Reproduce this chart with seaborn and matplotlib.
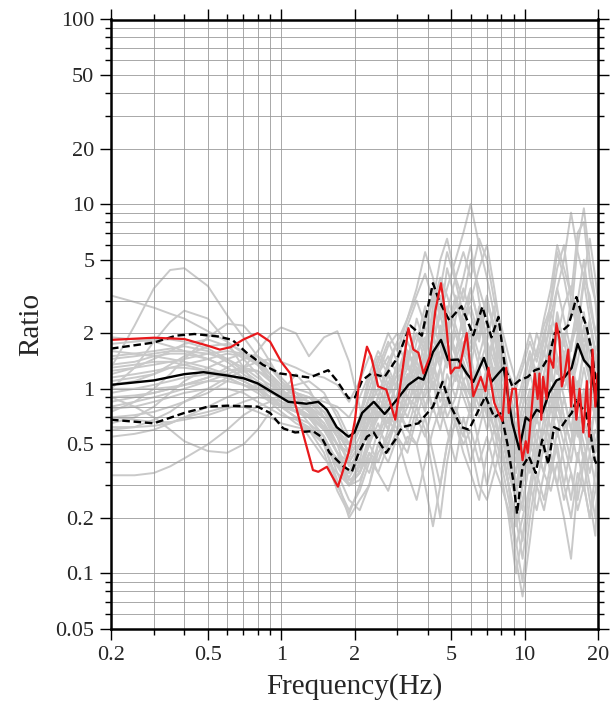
import numpy as np
import pandas as pd
import matplotlib
matplotlib.use("Agg")
import matplotlib.pyplot as plt
import seaborn as sns
from matplotlib.ticker import FixedLocator, FixedFormatter, NullFormatter

# ---------------- data ----------------
GRAY_FREQ = [0.2, 0.25, 0.3, 0.35, 0.4, 0.5, 0.6, 0.7, 0.8, 0.9, 1.0, 1.15, 1.3, 1.5, 1.7, 1.9,
             2.1, 2.3, 2.5, 2.75, 3.0, 3.3, 3.6, 3.9, 4.2, 4.5, 4.8, 5.2, 5.6,
             6.0, 6.5, 7.0, 7.5, 8.0, 8.6, 9.2, 9.8, 10.5, 11.2, 12.0, 12.8, 13.6, 14.5,
             15.5, 16.5, 17.5, 18.5, 19.5, 20.0]

g01 = [3.2, 2.95, 2.75, 2.55, 2.4, 2.05, 1.8, 1.55, 1.35, 1.2, 1.05, 0.9, 0.78, 0.62, 0.5, 0.45,
       0.6, 0.8, 0.7, 1.0, 1.3, 1.1, 1.6, 1.9, 1.4, 2.2, 1.6, 1.2, 1.8,
       1.3, 2.4, 1.5, 1.1, 0.8, 0.55, 0.4, 0.6, 0.5, 0.9, 0.7, 1.2, 0.9, 1.6, 1.1, 0.8, 1.3, 0.9, 0.7, 0.8]
g02 = [1.3, 2.2, 3.5, 4.4, 4.5, 3.6, 2.5, 1.9, 1.5, 1.2, 1.0, 0.8, 0.65, 0.5, 0.42, 0.4,
       0.5, 0.7, 0.9, 0.75, 1.1, 1.5, 2.0, 1.6, 2.4, 3.2, 2.0, 1.5, 2.6,
       3.5, 2.2, 1.8, 2.8, 1.4, 0.8, 0.5, 0.35, 0.6, 1.0, 0.8, 1.4, 2.2, 1.5, 0.9, 1.8, 2.6, 1.5, 1.0, 1.2]
g03 = [1.0, 1.3, 1.8, 2.3, 2.65, 2.4, 1.8, 1.3, 1.0, 0.85, 0.8, 0.85, 0.9, 0.75, 0.55, 0.4,
       0.35, 0.5, 0.8, 1.2, 1.0, 0.8, 1.2, 1.5, 1.0, 1.3, 2.1, 1.6, 1.1,
       0.9, 1.5, 2.2, 1.6, 1.0, 0.7, 0.3, 0.22, 0.45, 0.7, 0.5, 0.8, 1.1, 0.7, 0.5, 0.9, 0.6, 0.45, 0.6, 0.55]
g04 = [0.75, 0.85, 1.0, 1.2, 1.45, 1.9, 2.25, 2.2, 1.8, 1.4, 1.1, 0.9, 0.75, 0.6, 0.45, 0.35,
       0.45, 0.6, 0.55, 0.9, 1.4, 2.2, 3.0, 2.2, 1.5, 1.8, 2.6, 4.0, 3.0,
       5.0, 3.5, 2.5, 1.6, 1.2, 0.9, 0.6, 0.8, 1.2, 1.6, 2.2, 2.8, 4.5, 6.0, 3.0, 2.2, 4.0, 3.2, 2.0, 2.4]
g05 = [0.34, 0.34, 0.35, 0.38, 0.42, 0.5, 0.6, 0.72, 0.8, 0.85, 0.8, 0.7, 0.55, 0.42, 0.35, 0.3,
       0.32, 0.42, 0.35, 0.28, 0.4, 0.55, 0.5, 0.7, 0.45, 0.3, 0.5, 0.65, 0.45,
       0.35, 0.25, 0.45, 0.6, 0.4, 0.25, 0.15, 0.09, 0.2, 0.35, 0.25, 0.4, 0.3, 0.2, 0.12, 0.3, 0.45, 0.3, 0.2, 0.3]
g06 = [0.9, 0.8, 0.7, 0.6, 0.52, 0.46, 0.45, 0.5, 0.6, 0.75, 0.95, 1.2, 1.0, 0.7, 0.5, 0.45,
       0.7, 1.1, 1.5, 1.2, 0.8, 0.6, 0.9, 1.3, 1.8, 2.5, 1.8, 1.3, 1.0,
       0.8, 1.2, 0.9, 0.6, 0.5, 0.3, 0.2, 0.3, 0.5, 0.4, 0.6, 0.9, 0.7, 0.5, 0.8, 0.6, 0.4, 0.55, 0.8, 0.6]
g07 = [0.7, 0.72, 0.75, 0.8, 0.85, 0.95, 1.1, 1.3, 1.6, 1.95, 2.15, 2.0, 1.5, 1.9, 2.05, 1.4,
       0.8, 0.5, 0.4, 0.6, 0.9, 1.5, 2.0, 1.4, 2.8, 4.0, 3.2, 2.2, 1.6,
       2.2, 1.5, 1.2, 0.9, 0.6, 0.4, 0.35, 0.6, 0.9, 1.3, 1.0, 1.6, 2.4, 1.8, 1.2, 2.0, 1.5, 1.1, 1.4, 1.2]
g08 = [1.5, 1.55, 1.6, 1.65, 1.7, 1.6, 1.4, 1.2, 1.05, 0.9, 0.8, 0.7, 0.65, 0.55, 0.35, 0.25,
       0.22, 0.3, 0.45, 0.55, 0.7, 1.0, 1.4, 1.1, 0.8, 1.0, 1.5, 2.0, 1.4,
       1.1, 0.8, 1.3, 1.0, 0.7, 0.45, 0.3, 0.4, 0.7, 1.0, 1.4, 1.0, 0.8, 1.2, 0.9, 0.6, 1.0, 0.7, 0.5, 0.6]
g09 = [1.2, 1.3, 1.45, 1.6, 1.75, 1.85, 1.7, 1.45, 1.2, 1.0, 0.85, 0.75, 0.7, 0.6, 0.45, 0.4,
       0.5, 0.65, 0.9, 1.3, 1.8, 2.4, 3.5, 5.5, 4.0, 2.5, 3.5, 5.0, 7.0,
       10.0, 6.0, 4.0, 2.5, 1.6, 1.0, 0.7, 0.9, 1.3, 2.0, 1.5, 2.5, 3.5, 5.0, 9.0, 5.5, 4.0, 6.5, 4.0, 3.0]
g10 = [1.1, 1.15, 1.2, 1.3, 1.35, 1.45, 1.55, 1.5, 1.35, 1.15, 0.95, 0.8, 0.7, 0.55, 0.4, 0.3,
       0.4, 0.75, 1.2, 1.7, 2.0, 1.6, 1.2, 1.8, 2.5, 3.5, 5.5, 3.8, 2.5,
       3.0, 4.5, 6.0, 3.5, 2.0, 1.2, 0.8, 1.1, 1.6, 1.2, 1.8, 3.0, 5.5, 4.0, 2.5, 6.0, 9.5, 5.0, 3.0, 2.5]
g11 = [0.85, 0.9, 0.95, 1.0, 1.05, 1.15, 1.3, 1.45, 1.5, 1.35, 1.15, 0.95, 0.75, 0.5, 0.3, 0.22,
       0.28, 0.4, 0.6, 0.5, 0.7, 0.9, 0.8, 1.2, 1.7, 1.3, 0.9, 1.4, 2.0,
       1.5, 0.9, 0.6, 0.8, 0.45, 0.3, 0.12, 0.075, 0.15, 0.3, 0.5, 0.35, 0.6, 0.4, 0.25, 0.45, 0.3, 0.2, 0.35, 0.45]
g12 = [1.35, 1.4, 1.5, 1.55, 1.55, 1.45, 1.3, 1.15, 1.05, 1.0, 1.0, 1.05, 1.1, 0.95, 0.7, 0.5,
       0.45, 0.6, 0.75, 0.65, 0.95, 1.3, 1.1, 1.6, 2.2, 1.7, 1.3, 2.4, 3.5,
       2.5, 1.8, 3.0, 2.2, 1.5, 1.0, 0.6, 0.5, 0.8, 1.2, 1.0, 1.5, 1.2, 2.0, 1.4, 1.0, 1.6, 1.3, 0.9, 1.1]
g13 = [0.6, 0.62, 0.68, 0.75, 0.85, 1.0, 1.15, 1.25, 1.25, 1.15, 1.0, 0.85, 0.75, 0.65, 0.5, 0.32,
       0.35, 0.5, 0.65, 0.45, 0.6, 0.8, 1.1, 0.9, 1.3, 1.0, 0.7, 0.9, 1.3,
       1.0, 0.7, 0.9, 1.3, 0.9, 0.6, 0.4, 0.6, 0.9, 0.7, 1.0, 0.75, 1.0, 1.3, 0.9, 1.1, 0.8, 1.2, 0.9, 0.7]
g14 = [1.05, 1.1, 1.2, 1.35, 1.5, 1.7, 1.75, 1.6, 1.35, 1.1, 0.9, 0.75, 0.8, 0.9, 0.75, 0.55,
       0.6, 0.9, 1.3, 1.8, 1.4, 1.0, 1.5, 2.2, 3.0, 2.0, 2.8, 2.0, 1.5,
       1.8, 2.5, 1.6, 1.2, 0.8, 0.5, 0.3, 0.45, 0.8, 1.1, 1.6, 2.2, 1.5, 1.1, 1.7, 2.3, 1.4, 1.9, 1.2, 1.0]
g15 = [0.8, 0.85, 0.9, 0.95, 1.0, 1.1, 1.2, 1.3, 1.4, 1.45, 1.4, 1.3, 1.2, 1.15, 1.05, 0.85,
       1.1, 1.5, 1.3, 1.0, 1.2, 1.6, 1.3, 1.1, 1.5, 2.0, 1.5, 1.1, 1.6,
       1.2, 0.9, 1.3, 1.9, 1.3, 0.8, 0.55, 0.7, 1.0, 0.8, 1.2, 1.8, 1.3, 0.9, 0.6, 1.0, 0.8, 1.2, 1.5, 1.3]
g16 = [1.6, 1.55, 1.5, 1.45, 1.4, 1.3, 1.2, 1.1, 1.0, 0.9, 0.8, 0.75, 0.7, 0.55, 0.4, 0.3,
       0.35, 0.45, 0.4, 0.55, 0.7, 0.5, 0.8, 0.6, 0.35, 0.2, 0.4, 0.7, 0.55,
       0.8, 0.5, 0.3, 0.45, 0.7, 0.4, 0.25, 0.15, 0.3, 0.5, 0.35, 0.6, 0.45, 0.3, 0.5, 0.7, 0.4, 0.25, 0.16, 0.35]
g17 = [0.65, 0.7, 0.8, 0.95, 1.1, 1.3, 1.45, 1.55, 1.5, 1.3, 1.1, 0.95, 0.9, 0.8, 0.6, 0.45,
       0.5, 0.8, 1.2, 0.9, 0.7, 1.1, 1.8, 2.8, 2.0, 1.4, 1.9, 2.8, 4.0,
       6.0, 3.0, 1.8, 1.4, 1.0, 0.7, 0.45, 0.3, 0.5, 0.8, 1.2, 2.0, 3.5, 2.4, 1.6, 3.0, 5.0, 2.8, 2.0, 1.6]
g18 = [0.95, 1.0, 1.05, 1.1, 1.15, 1.2, 1.15, 1.05, 0.95, 0.85, 0.75, 0.65, 0.6, 0.5, 0.32, 0.2,
       0.25, 0.3, 0.5, 0.7, 0.55, 0.35, 0.25, 0.4, 0.6, 0.8, 0.6, 0.4, 0.7,
       0.5, 0.3, 0.25, 0.35, 0.5, 0.3, 0.18, 0.25, 0.4, 0.3, 0.22, 0.35, 0.5, 0.3, 0.2, 0.35, 0.28, 0.45, 0.3, 0.25]
g19 = [1.75, 1.8, 1.85, 1.85, 1.8, 1.65, 1.45, 1.25, 1.1, 1.0, 0.95, 0.95, 0.9, 0.85, 0.8, 0.7,
       0.9, 1.2, 1.6, 1.3, 1.0, 1.4, 2.0, 1.6, 1.2, 1.6, 2.2, 3.0, 2.2,
       1.6, 2.0, 2.8, 2.2, 1.6, 1.2, 1.0, 1.3, 1.8, 1.4, 2.0, 2.6, 1.9, 2.8, 3.6, 2.4, 1.8, 2.2, 1.6, 1.3]
g20 = [0.7, 0.68, 0.66, 0.66, 0.68, 0.72, 0.78, 0.85, 0.9, 0.88, 0.8, 0.7, 0.6, 0.45, 0.28, 0.21,
       0.3, 0.45, 0.35, 0.5, 0.75, 0.6, 0.5, 0.3, 0.18, 0.3, 0.5, 0.8, 0.6,
       0.4, 0.6, 0.9, 0.7, 0.5, 0.3, 0.2, 0.12, 0.25, 0.45, 0.6, 0.45, 0.3, 0.5, 0.35, 0.25, 0.4, 0.6, 0.4, 0.3]
g21 = [1.25, 1.3, 1.35, 1.4, 1.45, 1.55, 1.6, 1.55, 1.4, 1.2, 1.05, 0.95, 0.85, 0.7, 0.55, 0.5,
       0.7, 1.0, 1.4, 2.0, 1.6, 2.4, 3.2, 4.2, 3.0, 5.0, 6.5, 4.0, 5.5,
       4.0, 6.5, 5.0, 3.0, 2.2, 1.5, 1.1, 1.4, 2.0, 1.5, 2.4, 3.5, 6.0, 4.5, 3.2, 7.0, 8.0, 4.0, 3.0, 2.0]
g22 = [0.55, 0.57, 0.6, 0.65, 0.7, 0.75, 0.8, 0.8, 0.75, 0.7, 0.65, 0.62, 0.6, 0.5, 0.38, 0.3,
       0.38, 0.55, 0.7, 0.9, 1.2, 0.9, 0.7, 1.0, 1.4, 1.0, 0.8, 1.2, 0.9,
       0.7, 1.0, 0.75, 0.5, 0.35, 0.2, 0.1, 0.16, 0.3, 0.45, 0.35, 0.55, 0.8, 0.6, 0.4, 0.7, 0.5, 0.35, 0.5, 0.45]
g23 = [1.15, 1.2, 1.25, 1.3, 1.3, 1.25, 1.2, 1.1, 1.0, 0.9, 0.82, 0.75, 0.7, 0.62, 0.5, 0.42,
       0.55, 0.8, 1.0, 0.8, 1.1, 1.4, 1.0, 1.3, 1.9, 1.4, 2.2, 1.6, 2.4,
       1.6, 2.8, 1.4, 2.0, 1.0, 0.6, 0.45, 0.7, 0.55, 1.0, 0.8, 1.3, 0.9, 1.5, 1.0, 1.4, 2.2, 1.2, 0.8, 1.0]
g24 = [0.9, 0.92, 0.95, 1.0, 1.05, 1.15, 1.25, 1.3, 1.25, 1.1, 0.95, 0.85, 0.8, 0.7, 0.55, 0.38,
       0.45, 0.7, 0.55, 0.75, 0.6, 0.9, 1.3, 0.8, 1.1, 0.7, 1.2, 0.9, 1.4,
       0.9, 1.3, 0.8, 0.6, 0.9, 0.5, 0.28, 0.4, 0.7, 0.5, 0.9, 0.6, 1.1, 0.7, 0.5, 0.9, 0.6, 1.0, 0.7, 0.6]
g25 = [1.45, 1.5, 1.55, 1.6, 1.6, 1.55, 1.45, 1.3, 1.15, 1.05, 0.95, 0.9, 0.85, 0.75, 0.6, 0.5,
       0.6, 0.9, 1.2, 1.5, 1.2, 1.8, 1.4, 2.5, 1.8, 2.8, 2.0, 3.2, 2.2,
       2.8, 1.9, 2.4, 1.5, 1.1, 0.7, 0.5, 0.8, 1.2, 0.9, 1.6, 1.1, 2.0, 1.3, 1.8, 2.8, 1.6, 2.4, 1.5, 1.3]
g26 = [1.0, 1.0, 1.0, 1.02, 1.05, 1.1, 1.1, 1.05, 0.98, 0.9, 0.85, 0.8, 0.72, 0.6, 0.45, 0.35,
       0.5, 0.6, 0.85, 0.6, 0.9, 0.7, 1.0, 0.75, 1.2, 0.85, 1.0, 0.7, 1.1,
       0.75, 1.1, 0.7, 1.0, 0.6, 0.35, 0.25, 0.5, 0.35, 0.6, 0.45, 0.8, 0.55, 0.9, 0.6, 0.4, 0.7, 0.5, 0.8, 0.55]
g27 = [0.78, 0.8, 0.85, 0.9, 0.95, 1.0, 1.0, 0.95, 0.85, 0.78, 0.72, 0.68, 0.62, 0.5, 0.4, 0.33,
       0.42, 0.35, 0.5, 0.4, 0.55, 0.45, 0.7, 0.55, 0.8, 0.6, 0.9, 0.65, 0.5,
       0.6, 0.4, 0.55, 0.38, 0.3, 0.22, 0.14, 0.2, 0.3, 0.22, 0.35, 0.28, 0.4, 0.25, 0.35, 0.22, 0.3, 0.2, 0.28, 0.32]
g28 = [1.3, 1.35, 1.4, 1.4, 1.35, 1.25, 1.15, 1.05, 1.0, 1.0, 1.0, 1.0, 0.95, 0.8, 0.6, 0.45,
       0.7, 1.2, 0.9, 1.4, 1.8, 1.3, 2.4, 1.7, 3.5, 2.4, 4.5, 3.0, 2.0,
       3.5, 2.2, 3.2, 2.0, 1.4, 0.9, 0.6, 1.0, 1.5, 1.1, 2.0, 1.4, 2.6, 1.7, 3.0, 2.0, 3.8, 2.4, 1.6, 1.8]
g29 = [0.62, 0.62, 0.63, 0.65, 0.7, 0.8, 0.9, 0.98, 1.0, 0.98, 0.92, 0.85, 0.78, 0.7, 0.58, 0.45,
       0.65, 0.9, 0.7, 1.1, 0.8, 1.2, 0.85, 1.1, 0.75, 1.3, 0.95, 1.5, 1.1,
       1.3, 0.9, 1.1, 0.7, 0.5, 0.3, 0.18, 0.3, 0.6, 0.4, 0.7, 0.5, 0.9, 0.6, 0.8, 0.55, 0.9, 0.65, 0.45, 0.5]
g30 = [1.9, 1.85, 1.8, 1.7, 1.6, 1.45, 1.3, 1.15, 1.05, 0.95, 0.9, 0.85, 0.8, 0.65, 0.45, 0.3,
       0.35, 0.55, 0.75, 0.6, 0.9, 1.2, 0.9, 1.5, 1.2, 1.9, 1.4, 2.0, 1.5,
       2.0, 1.3, 1.8, 1.2, 0.8, 0.55, 0.35, 0.55, 0.9, 0.65, 1.2, 0.85, 1.5, 1.0, 1.3, 0.9, 1.7, 1.1, 0.9, 0.7]
GRAY_CURVES = [g01, g02, g03, g04, g05, g06, g07, g08, g09, g10, g11, g12, g13, g14, g15,
               g16, g17, g18, g19, g20, g21, g22, g23, g24, g25, g26, g27, g28, g29, g30]

MEAN_FREQ = [0.2, 0.3, 0.4, 0.48, 0.6, 0.7, 0.8, 0.93, 1.07, 1.27, 1.42, 1.54, 1.69, 1.89, 2.0,
             2.15, 2.4, 2.66, 3.0, 3.33, 3.66, 3.84, 4.2, 4.53, 4.85, 5.33, 5.78, 6.15, 6.8,
             7.3, 7.8, 8.2, 8.5, 8.9, 9.5, 10.1, 10.5, 11.2, 11.8, 12.6, 13.5, 14.6, 15.6,
             16.5, 17.5, 18.6, 19.9]
MEAN_RATIO = [1.05, 1.11, 1.2, 1.23, 1.18, 1.14, 1.07, 0.95, 0.85, 0.83, 0.85, 0.77, 0.62, 0.55, 0.58,
              0.74, 0.85, 0.73, 0.88, 1.05, 1.15, 1.12, 1.58, 1.84, 1.43, 1.44, 1.21, 1.09, 1.47,
              1.09, 1.21, 1.3, 0.95, 0.65, 0.47, 0.7, 0.67, 0.77, 0.74, 0.95, 1.11, 1.16, 1.3,
              1.75, 1.43, 1.3, 0.8]

UPPER_FREQ = [0.2, 0.3, 0.37, 0.44, 0.55, 0.63, 0.72, 0.84, 0.99, 1.14, 1.31, 1.44, 1.56, 1.69,
              1.89, 2.01, 2.15, 2.34, 2.66, 3.0, 3.39, 3.78, 4.2, 4.45, 4.9, 5.5, 6.15, 6.7,
              7.3, 7.8, 8.3, 8.9, 9.5, 10.3, 11.0, 11.8, 12.6, 13.3, 14.2, 15.1, 15.8, 16.3,
              17.1, 17.9, 18.8, 19.9]
UPPER_RATIO = [1.65, 1.78, 1.94, 1.98, 1.92, 1.84, 1.57, 1.35, 1.21, 1.18, 1.15, 1.21, 1.26, 1.11,
               0.89, 0.9, 1.11, 1.21, 1.16, 1.47, 2.2, 1.94, 3.73, 3.0, 2.35, 2.8, 1.95, 2.78,
               1.9, 2.45, 1.3, 1.03, 1.11, 1.16, 1.26, 1.3, 1.5, 2.0, 2.05, 2.2, 2.67, 3.14,
               2.57, 2.2, 1.63, 0.95]

LOWER_FREQ = [0.2, 0.3, 0.4, 0.5, 0.6, 0.8, 0.9, 1.02, 1.14, 1.35, 1.46, 1.58, 1.8, 1.95, 2.08,
              2.25, 2.4, 2.56, 2.7, 2.94, 3.13, 3.66, 4.2, 4.6, 4.98, 5.5, 5.9, 6.25, 6.9, 7.5,
              8.0, 8.5, 9.0, 9.3, 9.8, 10.4, 11.1, 11.8, 12.5, 13.2, 13.9, 14.7, 15.6, 16.3,
              17.0, 17.8, 18.6, 19.4, 20.0]
LOWER_RATIO = [0.68, 0.65, 0.74, 0.8, 0.81, 0.8, 0.74, 0.61, 0.58, 0.59, 0.55, 0.45, 0.38, 0.355, 0.45,
               0.55, 0.58, 0.5, 0.45, 0.53, 0.62, 0.65, 0.8, 1.09, 0.8, 0.62, 0.6, 0.7, 0.91, 0.7,
               0.74, 0.5, 0.31, 0.21, 0.38, 0.43, 0.35, 0.53, 0.39, 0.62, 0.6, 0.67, 0.74, 0.87,
               0.8, 0.74, 0.58, 0.41, 0.38]

RED_FREQ = [0.2, 0.3, 0.4, 0.5, 0.56, 0.62, 0.7, 0.8, 0.9, 1.0, 1.09, 1.14, 1.25, 1.35, 1.42, 1.54,
            1.71, 1.89, 1.95, 2.01, 2.08, 2.25, 2.34, 2.5, 2.7, 2.94, 3.08, 3.33, 3.49, 3.66,
            3.84, 4.08, 4.3, 4.53, 4.7, 4.97, 5.17, 5.4, 5.78, 6.15, 6.6, 6.9, 7.1, 7.5, 7.8,
            8.1, 8.4, 8.6, 8.9, 9.2, 9.5, 9.8, 10.1, 10.3, 10.7, 11.0, 11.3, 11.5, 11.7, 11.9,
            12.3, 12.6, 13.1, 13.5, 13.9, 14.2, 14.6, 15.1, 15.5, 15.8, 16.3, 16.8, 17.4, 18.0,
            18.4, 19.0, 19.5, 19.9]
RED_RATIO = [1.84, 1.89, 1.86, 1.71, 1.63, 1.68, 1.85, 2.0, 1.8, 1.4, 1.21, 0.835, 0.528, 0.363,
             0.355, 0.378, 0.295, 0.448, 0.55, 0.68, 1.03, 1.69, 1.5, 1.03, 0.99, 0.68, 1.03,
             2.13, 1.63, 1.57, 1.21, 1.5, 2.67, 3.73, 2.67, 1.21, 1.3, 1.3, 2.0, 0.91, 1.16,
             0.97, 1.3, 0.84, 0.74, 0.67, 1.3, 0.74, 1.0, 1.0, 0.575, 0.41, 0.52, 0.45, 0.8,
             1.21, 0.88, 1.21, 0.68, 1.16, 0.88, 1.5, 1.3, 2.26, 1.84, 1.03, 1.21, 1.63, 0.8,
             1.16, 0.68, 1.0, 0.58, 1.1, 0.55, 1.63, 0.8, 1.21]

Y_MAJOR = [0.05, 0.1, 0.2, 0.5, 1, 2, 5, 10, 20, 50, 100]
Y_LABELS = ["0.05", "0.1", "0.2", "0.5", "1", "2", "5", "10", "20", "50", "100"]
Y_MINOR = [0.06, 0.07, 0.08, 0.09, 0.3, 0.4, 0.6, 0.7, 0.8, 0.9, 3, 4, 6, 7, 8, 9,
           30, 40, 60, 70, 80, 90]
X_MAJOR = [0.2, 0.5, 1, 2, 5, 10, 20]
X_LABELS = ["0.2", "0.5", "1", "2", "5", "10", "20"]
X_MINOR = [0.3, 0.4, 0.6, 0.7, 0.8, 0.9, 3, 4, 6, 7, 8, 9]

# ---------------- build tables ----------------
for c in GRAY_CURVES:
    assert len(c) == len(GRAY_FREQ), len(c)
gray_df = pd.DataFrame({
    "freq": np.tile(GRAY_FREQ, len(GRAY_CURVES)),
    "ratio": np.concatenate([np.asarray(c, float) for c in GRAY_CURVES]),
    "station": np.repeat(np.arange(len(GRAY_CURVES)), len(GRAY_FREQ)),
})
mean_df = pd.DataFrame({"freq": MEAN_FREQ, "ratio": MEAN_RATIO})
up_df = pd.DataFrame({"freq": UPPER_FREQ, "ratio": UPPER_RATIO})
lo_df = pd.DataFrame({"freq": LOWER_FREQ, "ratio": LOWER_RATIO})
red_df = pd.DataFrame({"freq": RED_FREQ, "ratio": RED_RATIO})

# ---------------- style ----------------
sns.set_theme(style="white")
plt.rcParams["font.family"] = ["Liberation Serif", "DejaVu Serif"]
plt.rcParams["axes.unicode_minus"] = False

fig = plt.figure(figsize=(6.10, 7.04), dpi=100)
ax = fig.add_axes([111 / 610, 1 - 629 / 704, 487 / 610, 609.5 / 704])

sns.lineplot(data=gray_df, x="freq", y="ratio", units="station", estimator=None,
             color="#c9c9c9", linewidth=1.4, ax=ax, zorder=1, sort=False)
sns.lineplot(data=up_df, x="freq", y="ratio", color="black", linewidth=1.7,
             linestyle=(0, (3.2, 1.6)), ax=ax, zorder=3, sort=False)
sns.lineplot(data=lo_df, x="freq", y="ratio", color="black", linewidth=1.7,
             linestyle=(0, (3.2, 1.6)), ax=ax, zorder=3, sort=False)
sns.lineplot(data=mean_df, x="freq", y="ratio", color="black", linewidth=1.7,
             ax=ax, zorder=3, sort=False)
sns.lineplot(data=red_df, x="freq", y="ratio", color="#e8191c", linewidth=1.6,
             ax=ax, zorder=4, sort=False)

ax.set_xscale("log")
ax.set_yscale("log")
ax.set_xlim(0.2, 20)
ax.set_ylim(0.05, 100)

ax.xaxis.set_major_locator(FixedLocator(X_MAJOR))
ax.xaxis.set_major_formatter(FixedFormatter(X_LABELS))
ax.xaxis.set_minor_locator(FixedLocator(X_MINOR))
ax.xaxis.set_minor_formatter(NullFormatter())
ax.yaxis.set_major_locator(FixedLocator(Y_MAJOR))
ax.yaxis.set_major_formatter(FixedFormatter(Y_LABELS))
ax.yaxis.set_minor_locator(FixedLocator(Y_MINOR))
ax.yaxis.set_minor_formatter(NullFormatter())

ax.set_axisbelow(False)
ax.grid(True, which="both", color="#9a9a9a", linewidth=0.6, zorder=2)

ax.tick_params(which="both", direction="out", top=True, right=True,
               bottom=True, left=True, color="black", labelsize=16)
ax.tick_params(which="major", length=8, width=1.0, pad=4)
ax.tick_params(which="minor", length=4, width=1.0)
for s in ax.spines.values():
    s.set_color("black")
    s.set_linewidth(1.8)
    s.set_zorder(5)

ax.set_xlabel("Frequency(Hz)", fontsize=21, labelpad=6)
ax.set_ylabel("Ratio", fontsize=21, labelpad=8)
if ax.get_legend() is not None:
    ax.get_legend().remove()

fig.savefig("out.png", dpi=100)
